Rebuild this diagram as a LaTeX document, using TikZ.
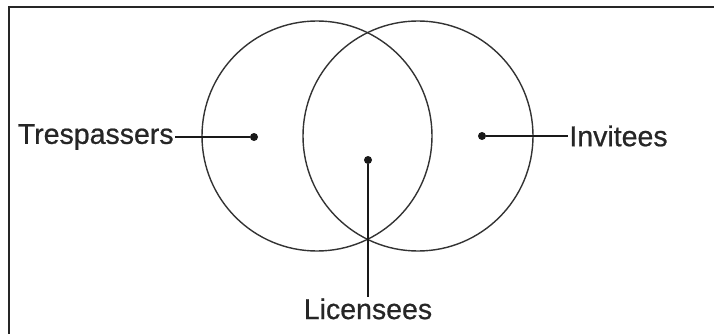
\documentclass[tikz,border=0pt]{standalone}
\usepackage{fontspec}
\setmainfont{Liberation Sans}
\newfontfamily\lblfont{Liberation Sans}[FakeBold=0.7]
\usetikzlibrary{positioning}

\begin{document}
\begin{tikzpicture}[x=1pt,y=-1pt,
  node distance=75pt,
  ring/.style={draw=black!80,line width=1.4pt,circle,minimum size=230pt,inner sep=0pt},
  pin/.style={fill=black!90,circle,minimum size=8pt,inner sep=0pt},
  lbl/.style={inner sep=1pt,text=black!85,font=\lblfont\fontsize{28.5}{30}\selectfont},
  lead/.style={line width=1.3pt,black!90}
]
\useasboundingbox (0,0) rectangle (714,334);
\draw[line width=2pt,black!85] (714,7) -- (9,7) -- (9,334);
\node[ring] (left) at (317,136) {};
\node[ring] (right) at (418,136) {};
\node[pin] (tdot) at (254,137) {};
\node[pin] (idot) at (482,136) {};
\node[pin] (ldot) at (368,160) {};
\node[lbl,left=75pt of tdot] (tres) {Trespassers};
\node[lbl,right=82pt of idot] (inv) {Invitees};
\node[lbl,below=133pt of ldot] (lic) {Licensees};
\draw[lead] (tdot)--(tres);
\draw[lead] (idot)--(inv);
\draw[lead] (ldot)--(lic);
\end{tikzpicture}
\end{document}
